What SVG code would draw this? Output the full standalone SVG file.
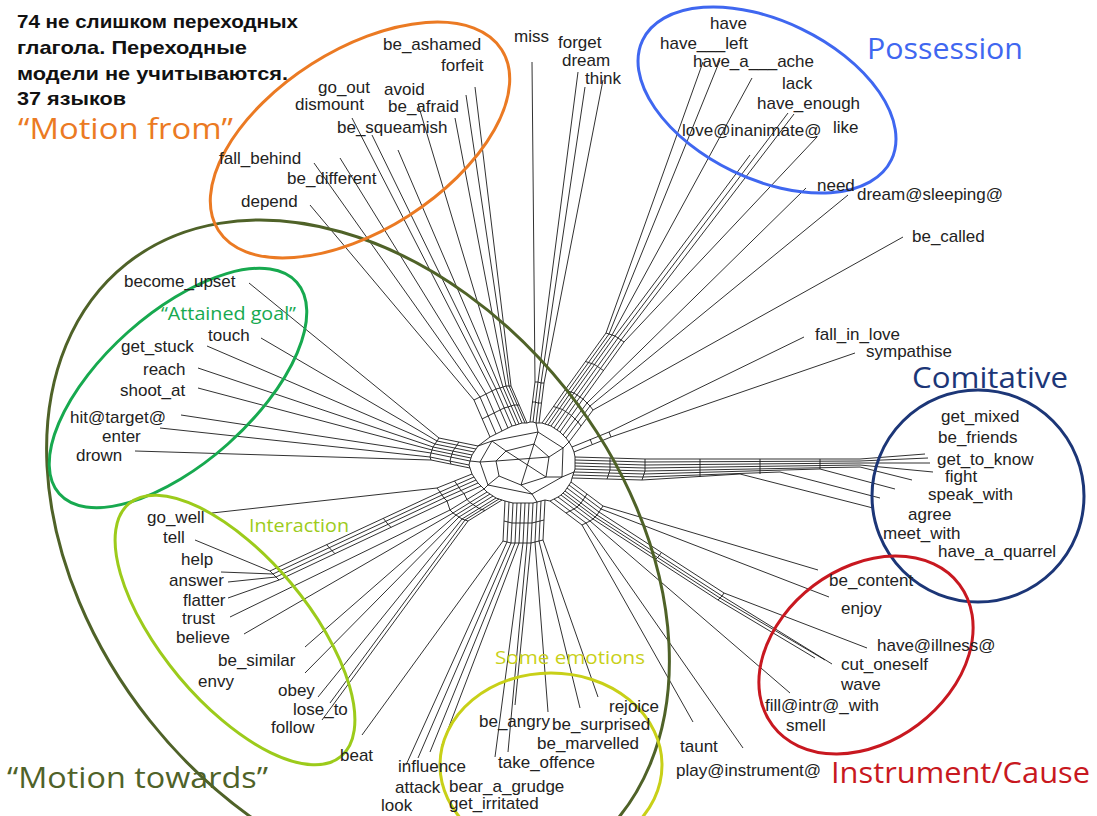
<svg xmlns="http://www.w3.org/2000/svg" width="1097" height="816" viewBox="0 0 1097 816">
<style>
.lb{font-family:"Liberation Sans",Arial,sans-serif;font-size:17px;fill:#222}
.tt{font-family:"Liberation Sans",Arial,sans-serif;font-size:19px;font-weight:bold;fill:#111}
.cat{font-family:"Open Sans","Noto Sans",sans-serif;font-size:29px}
.cs{font-family:"Open Sans","Noto Sans",sans-serif;font-size:18px}
.e polyline,.e polygon,.e line{fill:none;stroke:#1a1a1a;stroke-width:0.9;stroke-linejoin:round}
.ov{fill:none;stroke-width:3}
</style>
<rect width="1097" height="816" fill="#fff"/>
<g id="connectors" class="e">
<polyline points="475,87 511,386 527,423"/>
<polyline points="466,95 509,386 525,423"/>
<polyline points="455,118 506,386 522,423"/>
<polyline points="418,104 503,387 519,424"/>
<polyline points="398,150 500,388 516,425"/>
<polyline points="372,135 496,389 512,426"/>
<polyline points="352,118 492,391 508,428"/>
<polyline points="340,158 486,394 502,431"/>
<polyline points="314,163 480,397 496,434"/>
<polyline points="310,205 474,400 490,437"/>
<polyline points="511,386 509,386 506,386 503,387 500,388 496,389 492,391 486,394 480,397 474,400"/>
<polyline points="519,405 517,405 514,405 511,406 508,407 504,408 500,410 494,413 488,416 482,419"/>
<polyline points="532,62 535,382 530,422"/>
<polyline points="578,72 538,382 533,422"/>
<polyline points="585,87 541,383 536,423"/>
<polyline points="603,80 544,383 539,423"/>
<polyline points="535,382 538,382 541,383 544,383"/>
<polyline points="532,402 535,402 538,403 541,403"/>
<polyline points="703,62 606,333 565,390 542,423"/>
<polyline points="720,60 609,334 568,391 545,424"/>
<polyline points="752,78 612,335 571,392 548,425"/>
<polyline points="750,155 615,336 574,393 551,426"/>
<polyline points="788,113 618,338 577,395 554,428"/>
<polyline points="794,114 621,340 580,397 557,430"/>
<polyline points="817,137 624,342 583,399 560,432"/>
<polyline points="806,188 587,403 563,435"/>
<polyline points="848,195 590,406 566,438"/>
<polyline points="903,237 593,410 569,442"/>
<polyline points="565,390 568,391 571,392 574,393 577,395 580,397 583,399 587,403 590,406 593,410"/>
<polyline points="553.5,406.5 556.5,407.5 559.5,408.5 562.5,409.5 565.5,411.5 568.5,413.5 571.5,415.5 575,419 578,422 581,426"/>
<polyline points="606,333 609,334 612,335 615,336 618,338 621,340 624,342"/>
<polyline points="585.5,361.5 588.5,362.5 591.5,363.5 594.5,364.5 597.5,366.5 600.5,368.5 603.5,370.5"/>
<polyline points="804,337 609,432 572,447"/>
<polyline points="855,353 611,437 574,452"/>
<polyline points="609,432 611,437"/>
<polyline points="590,439 592,444"/>
<polyline points="925,454 860,459 645,459 575,457"/>
<polyline points="928,458 860,461 645,462 575,460"/>
<polyline points="930,463 860,463 645,465 575,463"/>
<polyline points="933,472 860,465 645,468 575,466"/>
<polyline points="912,480 860,467 645,471 575,469"/>
<polyline points="895,489 820,469 644,474 574,472"/>
<polyline points="880,498 780,472 643,477 573,475"/>
<polyline points="873,508 740,474 642,480 572,478"/>
<polyline points="645,459 645,462 645,465 645,468 645,471 644,474 643,477 642,480"/>
<polyline points="610,458 610,461 610,464 610,467 610,470 609,473 608,476 607,479"/>
<polyline points="700,459 700,477"/>
<polyline points="760,459 760,474"/>
<polyline points="820,459 820,469"/>
<polyline points="818,570 603,506 571,482"/>
<polyline points="829,597 601,509 569,485"/>
<polyline points="867,648 724,593 599,512 567,488"/>
<polyline points="832,664 722,596 597,515 565,491"/>
<polyline points="825,660 720,598 595,517 563,493"/>
<polyline points="815,658 718,600 593,519 561,495"/>
<polyline points="790,693 590,521 558,497"/>
<polyline points="743,748 586,523 554,499"/>
<polyline points="693,722 582,525 550,501"/>
<polyline points="603,506 601,509 599,512 597,515 595,517 593,519 590,521 586,523 582,525"/>
<polyline points="587,494 585,497 583,500 581,503 579,505 577,507 574,509 570,511 566,513"/>
<polyline points="724,593 722,596 720,598 718,600"/>
<polyline points="661,553 659,556 657,558 655,560"/>
<polyline points="598,697 543,540 545,500"/>
<polyline points="580,708 539,541 541,501"/>
<polyline points="548,712 535,542 537,502"/>
<polyline points="515,705 531,543 533,503"/>
<polyline points="508,752 527,543 529,503"/>
<polyline points="495,757 523,543 525,503"/>
<polyline points="442,745 519,543 521,503"/>
<polyline points="430,752 515,543 517,503"/>
<polyline points="418,758 511,543 513,503"/>
<polyline points="406,765 507,542 509,502"/>
<polyline points="362,735 503,541 505,501"/>
<polyline points="543,540 539,541 535,542 531,543 527,543 523,543 519,543 515,543 511,543 507,542 503,541"/>
<polyline points="544,520 540,521 536,522 532,523 528,523 524,523 520,523 516,523 512,523 508,522 504,521"/>
<polyline points="322,720 468,521 502,500"/>
<polyline points="330,703 465,520 499,499"/>
<polyline points="318,697 462,519 496,498"/>
<polyline points="305,673 459,517 493,496"/>
<polyline points="305,647 456,515 490,494"/>
<polyline points="244,634 453,513 487,492"/>
<polyline points="230,617 450,510 484,489"/>
<polyline points="228,598 279,580 447,501 481,486"/>
<polyline points="228,582 276,577 444,498 478,483"/>
<polyline points="221,572 273,574 442,495 476,480"/>
<polyline points="195,540 270,571 440,492 474,477"/>
<polyline points="212,513 437,488 472,474"/>
<polyline points="468,521 465,520 462,519 459,517 456,515 453,513 450,510 447,501 444,498 442,495 440,492 437,488"/>
<polyline points="485,510.5 482,509.5 479,508.5 476,506.5 473,504.5 470,502.5 467,499.5 464,493.5 461,490.5 459,487.5 457,484.5 454.5,481"/>
<polyline points="270,571 273,574 276,577 279,580"/>
<polyline points="326.7,544.7 329.3,547.7 332,550.7 335,553.7"/>
<polyline points="383.3,518.3 385.7,521.3 388,524.3 391,527.3"/>
<polyline points="135,451 431,460 470,468"/>
<polyline points="160,428 430,457 469,465"/>
<polyline points="181,415 431,453 470,461"/>
<polyline points="198,388 432,450 471,458"/>
<polyline points="198,368 433,447 472,455"/>
<polyline points="207,346 435,444 474,452"/>
<polyline points="261,338 437,441 476,449"/>
<polyline points="249,283 439,438 478,446"/>
<polyline points="431,460 430,457 431,453 432,450 433,447 435,444 437,441 439,438"/>
<polyline points="451,464 450,461 451,457 452,454 453,451 455,448 457,445 459,442"/>
<polygon points="530,422 533,422 536,423 539,423 542,423 545,424 548,425 551,426 554,428 557,430 560,432 563,435 566,438 569,442 572,447 574,452 575,457 575,460 575,463 575,466 575,469 574,472 573,475 572,478 571,482 569,485 567,488 565,491 563,493 561,495 558,497 554,499 550,501 545,500 541,501 537,502 533,503 529,503 525,503 521,503 517,503 513,503 509,502 505,501 502,500 499,499 496,498 493,496 490,494 487,492 484,489 481,486 478,483 476,480 474,477 472,474 470,468 469,465 470,461 471,458 472,455 474,452 476,449 478,446 490,437 496,434 502,431 508,428 512,426 516,425 519,424 522,423 525,423 527,423"/>
<polygon points="492,441 538,432 563,448 562,477 532,494 488,485 480,462"/>
<polygon points="506,451 534,444 549,457 546,477 521,485 499,476 496,461"/>
<line x1="478" y1="446" x2="492" y2="441"/>
<line x1="536" y1="423" x2="538" y2="432"/>
<line x1="569" y1="442" x2="563" y2="448"/>
<line x1="574" y1="472" x2="562" y2="477"/>
<line x1="537" y1="502" x2="532" y2="494"/>
<line x1="484" y1="489" x2="488" y2="485"/>
<line x1="470" y1="461" x2="480" y2="462"/>
<line x1="492" y1="441" x2="506" y2="451"/>
<line x1="538" y1="432" x2="534" y2="444"/>
<line x1="563" y1="448" x2="549" y2="457"/>
<line x1="562" y1="477" x2="546" y2="477"/>
<line x1="532" y1="494" x2="521" y2="485"/>
<line x1="488" y1="485" x2="499" y2="476"/>
<line x1="480" y1="462" x2="496" y2="461"/>
<line x1="506" y1="451" x2="546" y2="477"/>
<line x1="534" y1="444" x2="521" y2="485"/>
<line x1="496" y1="461" x2="549" y2="457"/>
</g>
<g id="cluster-motion-towards"><ellipse class="ov" cx="358" cy="555" rx="372" ry="266" transform="rotate(51.5 358 555)" stroke="#4F6228"/></g>
<g id="cluster-motion-from"><ellipse class="ov" cx="360" cy="140" rx="168" ry="90" transform="rotate(-32.5 360 140)" stroke="#EB7A23"/></g>
<g id="cluster-possession"><ellipse class="ov" cx="767" cy="100" rx="138" ry="79" transform="rotate(25.7 767 100)" stroke="#3F67F0"/></g>
<g id="cluster-attained"><ellipse class="ov" cx="178" cy="388" rx="159" ry="75" transform="rotate(-41.7 178 388)" stroke="#17A94F"/></g>
<g id="cluster-interaction"><ellipse class="ov" cx="235" cy="630" rx="165" ry="73" transform="rotate(50 235 630)" stroke="#9CCB1B"/></g>
<g id="cluster-emotions"><ellipse class="ov" cx="551" cy="765" rx="111" ry="92" stroke="#C8D018"/></g>
<g id="cluster-comitative"><circle class="ov" cx="978" cy="496" r="106" stroke="#1C3677"/></g>
<g id="cluster-instrument"><ellipse class="ov" cx="866" cy="655" rx="117" ry="87" transform="rotate(-37 866 655)" stroke="#C81820"/></g>
<g id="title">
<text class="tt" x="17" y="28" textLength="281" lengthAdjust="spacingAndGlyphs">74 не слишком переходных</text>
<text class="tt" x="17" y="54" textLength="230" lengthAdjust="spacingAndGlyphs">глагола. Переходные</text>
<text class="tt" x="17" y="80" textLength="271" lengthAdjust="spacingAndGlyphs">модели не учитываются.</text>
<text class="tt" x="17" y="105" textLength="109" lengthAdjust="spacingAndGlyphs">37 языков</text>
</g>
<g id="cat-motion-from"><text class="cat" x="18" y="139" fill="#EB7A23" textLength="215" lengthAdjust="spacingAndGlyphs">“Motion from”</text></g>
<g id="cat-possession"><text class="cat" x="867" y="59" fill="#3F67F0" textLength="156" lengthAdjust="spacingAndGlyphs">Possession</text></g>
<g id="cat-comitative"><text class="cat" x="912" y="388" fill="#1C3677" textLength="156" lengthAdjust="spacingAndGlyphs">Comitative</text></g>
<g id="cat-instrument"><text class="cat" x="831" y="783" fill="#C81820" textLength="259" lengthAdjust="spacingAndGlyphs">Instrument/Cause</text></g>
<g id="cat-motion-towards"><text class="cat" x="7" y="788" fill="#4F6228" textLength="261" lengthAdjust="spacingAndGlyphs">“Motion towards”</text></g>
<g id="cat-attained"><text class="cs" x="161" y="320" fill="#17A94F" textLength="135" lengthAdjust="spacingAndGlyphs">“Attained goal”</text></g>
<g id="cat-interaction"><text class="cs" x="249" y="532" fill="#9CCB1B" textLength="100" lengthAdjust="spacingAndGlyphs">Interaction</text></g>
<g id="cat-emotions"><text class="cs" x="495" y="664" fill="#C8D018" textLength="150" lengthAdjust="spacingAndGlyphs">Some emotions</text></g>
<g id="n-be_ashamed"><text class="lb" x="383" y="50">be_ashamed</text></g>
<g id="n-forfeit"><text class="lb" x="441" y="71">forfeit</text></g>
<g id="n-go_out"><text class="lb" x="318" y="93">go_out</text></g>
<g id="n-avoid"><text class="lb" x="384" y="95">avoid</text></g>
<g id="n-dismount"><text class="lb" x="295" y="110">dismount</text></g>
<g id="n-be_afraid"><text class="lb" x="388" y="112">be_afraid</text></g>
<g id="n-be_squeamish"><text class="lb" x="337" y="133">be_squeamish</text></g>
<g id="n-fall_behind"><text class="lb" x="219" y="164">fall_behind</text></g>
<g id="n-be_different"><text class="lb" x="287" y="184">be_different</text></g>
<g id="n-depend"><text class="lb" x="241" y="207">depend</text></g>
<g id="n-miss"><text class="lb" x="514" y="42">miss</text></g>
<g id="n-forget"><text class="lb" x="558" y="48">forget</text></g>
<g id="n-dream"><text class="lb" x="562" y="66">dream</text></g>
<g id="n-think"><text class="lb" x="585" y="84">think</text></g>
<g id="n-have"><text class="lb" x="710" y="29">have</text></g>
<g id="n-have_left"><text class="lb" x="660" y="49">have___left</text></g>
<g id="n-have_a_ache"><text class="lb" x="693" y="67">have_a___ache</text></g>
<g id="n-lack"><text class="lb" x="782" y="89">lack</text></g>
<g id="n-have_enough"><text class="lb" x="757" y="109">have_enough</text></g>
<g id="n-love_inanimate"><text class="lb" x="682" y="136">love@inanimate@</text></g>
<g id="n-like"><text class="lb" x="833" y="133">like</text></g>
<g id="n-need"><text class="lb" x="817" y="191">need</text></g>
<g id="n-dream_sleeping"><text class="lb" x="857" y="200">dream@sleeping@</text></g>
<g id="n-be_called"><text class="lb" x="912" y="242">be_called</text></g>
<g id="n-fall_in_love"><text class="lb" x="815" y="340">fall_in_love</text></g>
<g id="n-sympathise"><text class="lb" x="866" y="357">sympathise</text></g>
<g id="n-get_mixed"><text class="lb" x="941" y="422">get_mixed</text></g>
<g id="n-be_friends"><text class="lb" x="938" y="443">be_friends</text></g>
<g id="n-get_to_know"><text class="lb" x="937" y="465">get_to_know</text></g>
<g id="n-fight"><text class="lb" x="945" y="482">fight</text></g>
<g id="n-speak_with"><text class="lb" x="928" y="500">speak_with</text></g>
<g id="n-agree"><text class="lb" x="908" y="520">agree</text></g>
<g id="n-meet_with"><text class="lb" x="883" y="539">meet_with</text></g>
<g id="n-have_a_quarrel"><text class="lb" x="938" y="557">have_a_quarrel</text></g>
<g id="n-be_content"><text class="lb" x="829" y="586">be_content</text></g>
<g id="n-enjoy"><text class="lb" x="841" y="614">enjoy</text></g>
<g id="n-have_illness"><text class="lb" x="877" y="651">have@illness@</text></g>
<g id="n-cut_oneself"><text class="lb" x="841" y="670">cut_oneself</text></g>
<g id="n-wave"><text class="lb" x="841" y="690">wave</text></g>
<g id="n-fill_intr_with"><text class="lb" x="765" y="711">fill@intr@_with</text></g>
<g id="n-smell"><text class="lb" x="786" y="731">smell</text></g>
<g id="n-taunt"><text class="lb" x="680" y="752">taunt</text></g>
<g id="n-play_instrument"><text class="lb" x="676" y="776">play@instrument@</text></g>
<g id="n-rejoice"><text class="lb" x="609" y="712">rejoice</text></g>
<g id="n-be_angry"><text class="lb" x="479" y="727">be_angry</text></g>
<g id="n-be_surprised"><text class="lb" x="552" y="730">be_surprised</text></g>
<g id="n-be_marvelled"><text class="lb" x="537" y="749">be_marvelled</text></g>
<g id="n-take_offence"><text class="lb" x="498" y="768">take_offence</text></g>
<g id="n-influence"><text class="lb" x="398" y="772">influence</text></g>
<g id="n-attack"><text class="lb" x="395" y="793">attack</text></g>
<g id="n-bear_a_grudge"><text class="lb" x="449" y="792">bear_a_grudge</text></g>
<g id="n-look"><text class="lb" x="381" y="811">look</text></g>
<g id="n-get_irritated"><text class="lb" x="449" y="809">get_irritated</text></g>
<g id="n-beat"><text class="lb" x="340" y="761">beat</text></g>
<g id="n-go_well"><text class="lb" x="147" y="523">go_well</text></g>
<g id="n-tell"><text class="lb" x="163" y="543">tell</text></g>
<g id="n-help"><text class="lb" x="181" y="565">help</text></g>
<g id="n-answer"><text class="lb" x="169" y="586">answer</text></g>
<g id="n-flatter"><text class="lb" x="183" y="606">flatter</text></g>
<g id="n-trust"><text class="lb" x="182" y="624">trust</text></g>
<g id="n-believe"><text class="lb" x="176" y="643">believe</text></g>
<g id="n-be_similar"><text class="lb" x="218" y="666">be_similar</text></g>
<g id="n-envy"><text class="lb" x="198" y="687">envy</text></g>
<g id="n-obey"><text class="lb" x="278" y="696">obey</text></g>
<g id="n-lose_to"><text class="lb" x="293" y="715">lose_to</text></g>
<g id="n-follow"><text class="lb" x="271" y="733">follow</text></g>
<g id="n-become_upset"><text class="lb" x="124" y="287">become_upset</text></g>
<g id="n-touch"><text class="lb" x="208" y="341">touch</text></g>
<g id="n-get_stuck"><text class="lb" x="121" y="352">get_stuck</text></g>
<g id="n-reach"><text class="lb" x="143" y="375">reach</text></g>
<g id="n-shoot_at"><text class="lb" x="120" y="396">shoot_at</text></g>
<g id="n-hit_target"><text class="lb" x="70" y="423">hit@target@</text></g>
<g id="n-enter"><text class="lb" x="102" y="442">enter</text></g>
<g id="n-drown"><text class="lb" x="76" y="461">drown</text></g>
</svg>
